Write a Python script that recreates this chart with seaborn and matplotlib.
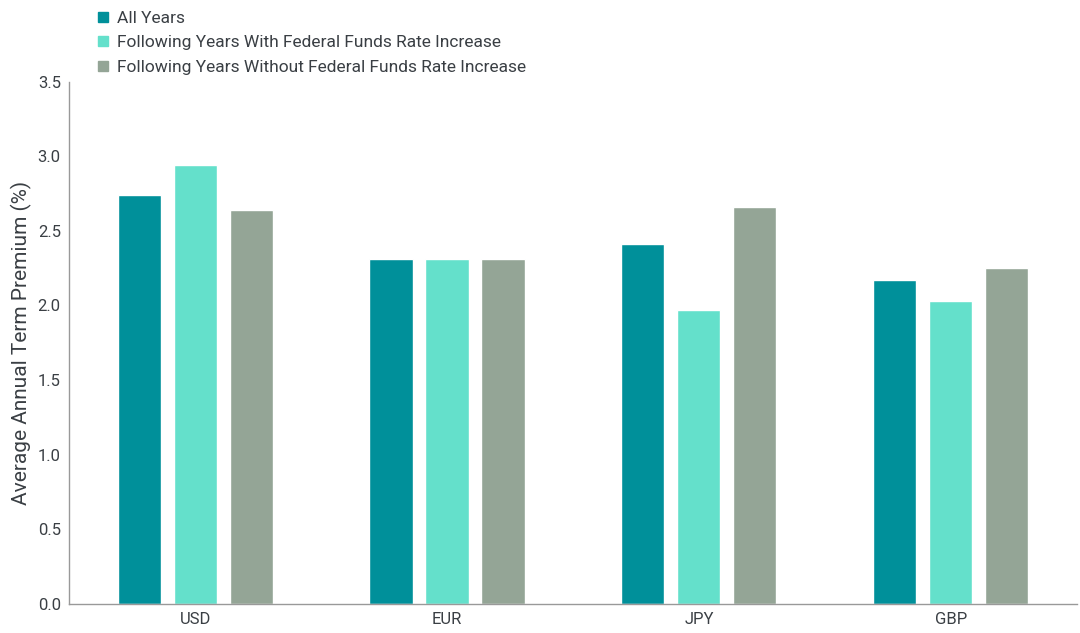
import numpy as np
import pandas as pd
import matplotlib
matplotlib.use("Agg")
import matplotlib.pyplot as plt
import seaborn as sns
from matplotlib.lines import Line2D

currencies = ["USD", "EUR", "JPY", "GBP"]
series_names = [
    "All Years",
    "Following Years With Federal Funds Rate Increase",
    "Following Years Without Federal Funds Rate Increase",
]
all_years = [2.74, 2.31, 2.41, 2.17]
with_increase = [2.94, 2.31, 1.97, 2.03]
without_increase = [2.64, 2.31, 2.66, 2.25]
colors = ["#00909a", "#64e0cb", "#94a596"]

df = pd.DataFrame(
    {
        "currency": currencies * 3,
        "series": np.repeat(series_names, len(currencies)),
        "value": all_years + with_increase + without_increase,
    }
)

sns.set_theme(style="white")
plt.rcParams["font.family"] = ["Roboto", "DejaVu Sans"]
text_color = "#3a3f44"

fig = plt.figure(figsize=(10.8, 6.33), dpi=100)
ax = fig.add_axes([0.064, 0.046, 0.933, 0.825])

sns.barplot(
    data=df,
    x="currency",
    y="value",
    hue="series",
    order=currencies,
    hue_order=series_names,
    palette=colors,
    width=0.667,
    gap=0.23,
    ax=ax,
    legend=False,
    saturation=1,
)

ax.set_ylim(0, 3.5)
ax.set_yticks(np.arange(0, 3.51, 0.5))
ax.set_yticklabels([f"{v:.1f}" for v in np.arange(0, 3.51, 0.5)])
ax.set_xlim(-0.5, 3.5)
ax.set_xlabel("")
ax.set_ylabel("Average Annual Term Premium (%)", fontsize=15, color=text_color)
ax.tick_params(axis="both", labelsize=12, colors=text_color, length=0, pad=6)
for side in ["top", "right"]:
    ax.spines[side].set_visible(False)
for side in ["left", "bottom"]:
    ax.spines[side].set_color("#999999")
    ax.spines[side].set_linewidth(1.0)

handles = [
    Line2D([0], [0], marker="s", linestyle="", markersize=7, color=c) for c in colors
]
fig.legend(
    handles,
    series_names,
    loc="upper left",
    bbox_to_anchor=(0.073, 1.008),
    frameon=False,
    fontsize=12.5,
    labelcolor=text_color,
    handletextpad=0.3,
    labelspacing=0.55,
    handlelength=1.0,
)

fig.savefig("out.png", dpi=100)
